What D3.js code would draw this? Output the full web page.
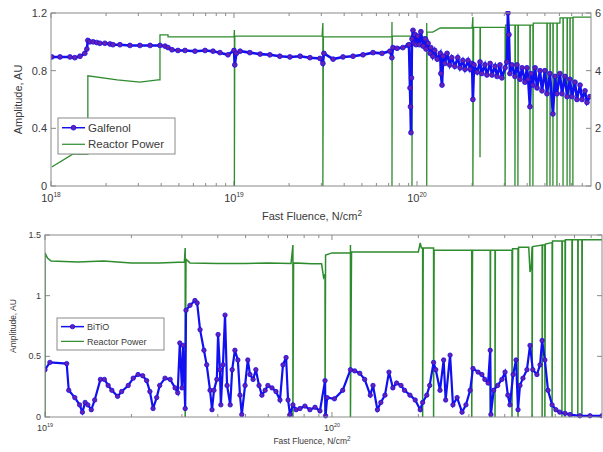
<!DOCTYPE html>
<html><head><meta charset="utf-8">
<script src="https://cdn.jsdelivr.net/npm/d3@7"></script>
<style>body{margin:0;background:#fff}svg{display:block;font-family:"Liberation Sans",Arial,sans-serif}</style>
</head><body><svg id="c" width="603" height="452"></svg>
<script>
// ---------- DATA ----------
// Top panel: Galfenol amplitude vs fast fluence
const topFluence = [1.01e18,1.12e18,1.27e18,1.35e18,1.44e18,1.53e18,1.57e18,1.59e18,1.63e18,1.70e18,1.78e18,1.85e18,1.97e18,2.10e18,2.18e18,2.38e18,2.70e18,3.06e18,3.48e18,3.94e18,4.20e18,4.36e18,4.58e18,4.94e18,5.40e18,6.12e18,6.95e18,7.68e18,8.38e18,9.27e18,1.00e19,1.01e19,1.03e19,1.08e19,1.22e19,1.39e19,1.57e19,1.78e19,2.02e19,2.30e19,2.60e19,2.95e19,3.06e19,3.10e19,3.48e19,3.94e19,4.47e19,5.07e19,5.75e19,6.44e19,7.11e19,7.29e19,7.39e19,7.78e19,8.38e19,8.93e19,9.04e19,9.16e19,9.21e19,9.27e19,9.33e19,
  9.39e19,9.51e19,9.64e19,9.75e19,9.88e19,1.01e20,1.03e20,1.05e20,1.08e20,1.11e20,1.12e20,1.15e20,1.18e20,1.19e20,1.22e20,1.25e20,1.29e20,1.34e20,1.35e20,1.37e20,1.39e20,1.42e20,1.46e20,1.51e20,1.55e20,1.61e20,1.67e20,1.72e20,1.78e20,1.83e20,1.90e20,1.95e20,2.00e20,2.02e20,2.05e20,2.13e20,2.21e20,2.26e20,2.35e20,2.41e20,2.51e20,2.57e20,2.67e20,2.74e20,2.84e20,2.91e20,3.03e20,3.10e20,3.14e20,3.18e20,3.22e20,3.30e20,3.43e20,3.52e20,3.66e20,3.75e20,3.89e20,3.99e20,4.05e20,4.14e20,4.20e20,4.30e20,4.42e20,4.53e20,4.70e20,4.82e20,5.00e20,5.13e20,5.33e20,5.53e20,5.68e20,5.82e20,6.04e20,6.20e20,6.44e20,6.61e20,6.85e20,7.03e20,7.30e20,7.48e20,7.78e20,7.98e20,8.28e20,8.49e20,8.81e20];
const topGalfenol = [0.895,0.895,0.895,0.89,0.90,0.92,0.95,1.01,1.00,1.00,0.995,0.99,0.99,0.985,0.98,0.98,0.975,0.975,0.975,0.975,0.97,0.96,0.945,0.94,0.94,0.935,0.94,0.935,0.925,0.91,0.94,0.84,0.92,0.935,0.925,0.915,0.91,0.90,0.895,0.90,0.89,0.885,0.85,0.92,0.88,0.895,0.90,0.91,0.925,0.92,0.935,0.89,0.96,0.955,0.96,0.975,0.98,0.68,0.55,0.37,0.75,
  1.02,1.08,0.99,1.05,0.98,1.04,0.98,1.07,0.97,1.02,0.95,0.99,0.92,0.96,0.90,0.94,0.88,0.92,0.78,0.70,0.90,0.85,0.92,0.84,0.89,0.83,0.89,0.82,0.87,0.81,0.87,0.81,0.85,0.60,0.84,0.79,0.86,0.78,0.84,0.77,0.85,0.77,0.83,0.76,0.84,0.75,0.82,0.86,1.20,1.05,0.78,0.84,0.76,0.84,0.74,0.82,0.72,0.82,0.74,0.55,0.78,0.70,0.82,0.68,0.80,0.66,0.80,0.64,0.78,0.50,0.76,0.64,0.78,0.64,0.76,0.62,0.74,0.62,0.72,0.60,0.70,0.60,0.66,0.58,0.62];
// Top panel: reactor power (right axis)
const topPowerFluence = [1.01e18,1.32e18,1.59e18,1.59e18,2.30e18,3.06e18,3.84e18,3.94e18,3.94e18,4.36e18,4.36e18,6.52e18,1.00e19,1.005e19,1.005e19,1.01e19,3.03e19,3.06e19,3.06e19,3.08e19,7.29e19,7.30e19,7.30e19,7.33e19,9.39e19,9.39e19,9.42e19,1.13e20,1.13e20,1.13e20,1.135e20,1.22e20,1.34e20,2.00e20,2.02e20,2.02e20,2.04e20,2.21e20,2.21e20,2.22e20,3.03e20,3.03e20,3.05e20,3.43e20,3.43e20,3.45e20,3.56e20,3.56e20,3.58e20,4.14e20,4.14e20,4.16e20,4.30e20,4.30e20,4.32e20,5.13e20,5.13e20,5.15e20,5.33e20,5.33e20,5.35e20,5.53e20,5.53e20,5.55e20,5.82e20,5.82e20,5.84e20,6.04e20,6.05e20,6.28e20,6.28e20,6.30e20,6.61e20,6.61e20,6.63e20,6.85e20,6.85e20,6.87e20,7.11e20,7.11e20,7.13e20,8.93e20];
const topPower = [0.66,1.11,1.11,3.82,3.68,3.60,3.68,3.68,5.24,5.24,5.17,5.17,5.17,5.41,0,5.20,5.20,5.65,0,5.17,5.17,5.69,0,5.20,5.20,0,5.17,5.17,5.65,0,5.34,5.34,5.48,5.48,5.86,0,5.50,5.50,1.00,5.50,5.50,0,5.58,5.58,0,5.58,5.58,0,5.58,5.58,0,5.58,5.58,0,5.65,5.65,0,5.65,5.65,0,5.65,5.65,0,5.65,5.65,0,5.65,5.65,5.83,5.83,0,5.83,5.83,0,5.83,5.83,0,5.83,5.83,0,5.86,5.86];
// Bottom panel: BiTiO amplitude
const botFluence = [1.00e19,1.04e19,1.19e19,1.21e19,1.27e19,1.32e19,1.35e19,1.38e19,1.41e19,1.45e19,1.49e19,1.56e19,1.61e19,1.66e19,1.71e19,1.79e19,1.85e19,1.95e19,2.03e19,2.11e19,2.19e19,2.26e19,2.32e19,2.38e19,2.45e19,2.51e19,2.62e19,2.73e19,2.84e19,2.90e19,2.95e19,3.00e19,3.03e19,3.08e19,3.10e19,3.20e19,3.33e19,3.39e19,3.47e19,3.58e19,3.66e19,3.76e19,3.82e19,3.88e19,3.97e19,4.01e19,4.07e19,4.10e19,4.17e19,4.24e19,4.31e19,4.42e19,4.49e19,4.59e19,4.70e19,4.78e19,4.85e19,4.98e19,5.09e19,5.18e19,5.31e19,5.43e19,5.57e19,5.70e19,5.85e19,5.98e19,6.18e19,6.38e19,6.59e19,6.75e19,6.92e19,7.03e19,7.14e19,7.31e19,7.50e19,7.74e19,8.05e19,8.38e19,8.73e19,9.08e19,9.46e19,9.50e19,9.62e19,1.02e20,1.09e20,1.16e20,1.20e20,1.25e20,1.30e20,1.36e20,1.39e20,1.44e20,1.48e20,1.53e20,1.58e20,1.63e20,1.68e20,1.74e20,1.79e20,1.87e20,1.95e20,2.03e20,2.07e20,2.14e20,2.19e20,2.26e20,2.30e20,2.38e20,2.45e20,2.49e20,2.58e20,2.64e20,2.73e20,2.84e20,2.93e20,3.03e20,3.10e20,3.23e20,3.33e20,3.41e20,3.50e20,3.56e20,3.58e20,3.66e20,3.78e20,3.91e20,4.01e20,4.10e20,4.17e20,4.28e20,4.38e20,4.45e20,4.52e20,4.63e20,4.78e20,4.90e20,5.01e20,5.18e20,5.31e20,5.40e20,5.52e20,5.66e20,5.85e20,6.03e20,6.22e20,6.49e20,6.75e20,7.31e20,7.93e20,8.73e20];
const botBiTiO = [0.39,0.45,0.44,0.22,0.16,0.10,0.04,0.12,0.10,0.06,0.14,0.31,0.31,0.26,0.22,0.17,0.21,0.26,0.32,0.35,0.34,0.30,0.21,0.07,0.16,0.26,0.32,0.31,0.24,0.20,0.61,0.24,0.59,0.07,0.88,0.92,0.96,0.94,0.72,0.55,0.43,0.22,0.06,0.22,0.31,0.68,0.39,0.10,0.43,0.84,0.26,0.10,0.39,0.55,0.47,0.18,0.02,0.26,0.47,0.35,0.31,0.39,0.26,0.18,0.22,0.26,0.24,0.21,0.14,0.43,0.49,0.14,0.02,0.10,0.06,0.07,0.09,0.06,0.08,0.05,0.30,0.01,0.16,0.15,0.22,0.39,0.38,0.36,0.31,0.18,0.26,0.06,0.12,0.18,0.37,0.24,0.28,0.26,0.22,0.18,0.14,0.06,0.12,0.18,0.26,0.45,0.39,0.22,0.47,0.14,0.51,0.10,0.16,0.04,0.10,0.22,0.40,0.37,0.35,0.31,0.28,0.55,0.02,0.22,0.26,0.31,0.37,0.18,0.10,0.35,0.47,0.06,0.26,0.32,0.39,0.59,0.39,0.35,0.43,0.63,0.47,0.22,0.10,0.06,0.04,0.03,0.02,0.01,0.01,0.01];
// Bottom panel: reactor power (right axis, unlabelled)
const botPowerFluence = [1.00e19,1.00e19,1.02e19,1.05e19,1.30e19,1.60e19,2.00e19,2.50e19,3.06e19,3.08e19,3.08e19,3.10e19,3.20e19,4.00e19,5.00e19,6.00e19,7.20e19,7.31e19,7.31e19,7.35e19,8.50e19,9.20e19,9.35e19,9.46e19,9.46e19,9.50e19,1.00e20,1.16e20,1.16e20,1.16e20,1.17e20,1.60e20,2.00e20,2.03e20,2.05e20,2.07e20,2.07e20,2.08e20,2.26e20,2.26e20,2.27e20,3.07e20,3.07e20,3.09e20,3.56e20,3.56e20,3.57e20,3.70e20,3.70e20,3.71e20,4.24e20,4.24e20,4.26e20,4.45e20,4.45e20,4.47e20,4.85e20,4.90e20,4.95e20,4.98e20,4.98e20,5.00e20,5.40e20,5.40e20,5.42e20,5.52e20,5.52e20,5.54e20,5.85e20,5.85e20,5.87e20,6.33e20,6.33e20,6.35e20,6.49e20,6.49e20,6.51e20,6.86e20,6.86e20,6.88e20,7.19e20,7.19e20,7.21e20,7.43e20,7.43e20,7.45e20,8.73e20];
const botPower = [0,5.41,5.24,5.14,5.11,5.14,5.08,5.08,5.11,5.57,0,5.20,5.08,5.06,5.06,5.08,5.06,5.67,0,5.08,5.05,5.05,4.60,4.70,0,5.34,5.41,5.41,5.67,0,5.44,5.44,5.44,5.74,5.57,5.57,0,5.57,5.57,0,5.50,5.50,0,5.50,5.50,0,5.50,5.50,0,5.50,5.50,0,5.55,5.55,0,5.60,5.60,4.78,5.00,5.60,0,5.62,5.67,0,5.67,5.67,0,5.70,5.75,0,5.80,5.80,0,5.80,5.80,0,5.84,5.84,0,5.84,5.84,0,5.84,5.84,0,5.84,5.84];

const topYTicks = [0,0.4,0.8,1.2], topYLabels = ["0","0.4","0.8","1.2"];
const topRTicks = [0,2,4,6], topRLabels = ["0","2","4","6"];
const botYTicks = [0,0.5,1,1.5], botYLabels = ["0","0.5","1","1.5"];
const topXTickExp = [18,19,20], botXTickExp = [19,20];
const topLegend = ["Galfenol","Reactor Power"], botLegend = ["BiTiO","Reactor Power"];

// ---------- DRAW ----------
const svg = d3.select("#c");
const BLUE="#1010f0", MARK="#6a1fb0", GREEN="#2e8b2e", AX="#8a8a8a", TXT="#3a3a3a";

function panel(o){
  const g = svg.append("g");
  const x = d3.scaleLog().domain(o.xdom).range([o.l,o.r]);
  const y = d3.scaleLinear().domain(o.ydom).range([o.b,o.t]);
  const yr = d3.scaleLinear().domain([0,6]).range([o.b,o.t]);
  const cp = "cp"+o.id;
  svg.append("clipPath").attr("id",cp).append("rect").attr("x",o.l).attr("y",o.t-2).attr("width",o.r-o.l).attr("height",o.b-o.t+4);
  const ticks=[];
  for(let e=Math.floor(Math.log10(o.xdom[0])); e<=Math.ceil(Math.log10(o.xdom[1])); e++){
    for(let m=1;m<10;m++){const v=m*Math.pow(10,e); if(v>=o.xdom[0]*0.999&&v<=o.xdom[1]) ticks.push({v,major:m===1});}
  }
  ticks.forEach(t=>{
    const px=x(t.v), L=t.major?5:3;
    g.append("line").attr("x1",px).attr("x2",px).attr("y1",o.b).attr("y2",o.b-L).attr("stroke",AX);
    g.append("line").attr("x1",px).attr("x2",px).attr("y1",o.t).attr("y2",o.t+L).attr("stroke",AX);
  });
  o.yt.forEach(v=>{
    g.append("line").attr("x1",o.l).attr("x2",o.l+5).attr("y1",y(v)).attr("y2",y(v)).attr("stroke",AX);
    g.append("line").attr("x1",o.r).attr("x2",o.r-5).attr("y1",y(v)).attr("y2",y(v)).attr("stroke",AX);
  });
  const pdata = o.pf.map((f,i)=>[f,o.pv[i]]);
  g.append("path").attr("clip-path",`url(#${cp})`).datum(pdata)
    .attr("d",d3.line().x(d=>x(d[0])).y(d=>yr(d[1])))
    .attr("fill","none").attr("stroke",GREEN).attr("stroke-width",o.gw);
  const adata = o.af.map((f,i)=>[f,o.av[i]]);
  g.append("path").attr("clip-path",`url(#${cp})`).datum(adata)
    .attr("d",d3.line().x(d=>x(d[0])).y(d=>y(d[1])))
    .attr("fill","none").attr("stroke",BLUE).attr("stroke-width",o.bw);
  g.append("g").attr("clip-path",`url(#${cp})`).selectAll("circle").data(adata).join("circle")
    .attr("cx",d=>x(d[0])).attr("cy",d=>y(d[1])).attr("r",o.mr)
    .attr("fill",MARK).attr("stroke",BLUE).attr("stroke-width",0.8);
  g.append("rect").attr("x",o.l).attr("y",o.t).attr("width",o.r-o.l).attr("height",o.b-o.t)
    .attr("fill","none").attr("stroke",AX).attr("stroke-width",1);
  o.yt.forEach((v,i)=>g.append("text").attr("x",o.l-4).attr("y",y(v)+o.fs*0.35).attr("text-anchor","end")
    .attr("font-size",o.fs).attr("fill",TXT).text(o.yl[i]));
  if(o.rl) o.rt.forEach((v,i)=>g.append("text").attr("x",o.r+4).attr("y",yr(v)+o.fs*0.35)
    .attr("font-size",o.fs).attr("fill",TXT).text(o.rl[i]));
  o.xe.forEach(e=>{
    const t=g.append("text").attr("x",x(Math.pow(10,e))).attr("y",o.b+o.fs+5).attr("text-anchor","middle")
      .attr("font-size",o.fs).attr("fill",TXT);
    t.append("tspan").text("10");
    t.append("tspan").attr("dy",-o.fs*0.45).attr("font-size",o.fs*0.6).text(e);
  });
  const xt=g.append("text").attr("x",o.xtx).attr("y",o.xty).attr("text-anchor","middle").attr("font-size",o.tfs).attr("fill",TXT);
  xt.append("tspan").text("Fast Fluence, N/cm");
  xt.append("tspan").attr("dy",-o.tfs*0.4).attr("font-size",o.tfs*0.75).text("2");
  g.append("text").attr("transform",`translate(${o.ytx},${(o.t+o.b)/2}) rotate(-90)`).attr("text-anchor","middle")
    .attr("font-size",o.tfs).attr("fill",TXT).text("Amplitude, AU");
  const L=o.leg;
  g.append("rect").attr("x",L.x).attr("y",L.y).attr("width",L.w).attr("height",L.h).attr("fill","#fff").attr("stroke",AX);
  const r1=L.y+L.h*0.27, r2=L.y+L.h*0.73;
  g.append("line").attr("x1",L.x+4).attr("x2",L.x+27).attr("y1",r1).attr("y2",r1).attr("stroke",BLUE).attr("stroke-width",1.5);
  g.append("circle").attr("cx",L.x+15.5).attr("cy",r1).attr("r",o.mr).attr("fill",MARK).attr("stroke",BLUE).attr("stroke-width",0.8);
  g.append("line").attr("x1",L.x+4).attr("x2",L.x+27).attr("y1",r2).attr("y2",r2).attr("stroke",GREEN).attr("stroke-width",1.2);
  g.append("text").attr("x",L.x+30).attr("y",r1+L.fs*0.36).attr("font-size",L.fs).attr("fill",TXT).text(o.ln[0]);
  g.append("text").attr("x",L.x+30).attr("y",r2+L.fs*0.36).attr("font-size",L.fs).attr("fill",TXT).text(o.ln[1]);
}

panel({id:1,l:51,r:591,t:13,b:186,xdom:[1e18,8.93e20],ydom:[0,1.2],
  af:topFluence,av:topGalfenol,pf:topPowerFluence,pv:topPower,
  yt:topYTicks,yl:topYLabels,rt:topRTicks,rl:topRLabels,xe:topXTickExp,
  fs:11,tfs:11,xtx:312,xty:220,ytx:22,gw:1.3,bw:2.6,mr:2.4,
  leg:{x:58,y:118,w:117,h:36,fs:11.5},ln:topLegend});
panel({id:2,l:45,r:602,t:235,b:417,xdom:[1e19,8.73e20],ydom:[0,1.5],
  af:botFluence,av:botBiTiO,pf:botPowerFluence,pv:botPower,
  yt:botYTicks,yl:botYLabels,rt:topRTicks,rl:null,xe:botXTickExp,
  fs:9,tfs:8.5,xtx:312,xty:444,ytx:16,gw:1.5,bw:2.2,mr:2.2,
  leg:{x:57,y:318,w:107,h:32,fs:9},ln:botLegend});
</script></body></html>
